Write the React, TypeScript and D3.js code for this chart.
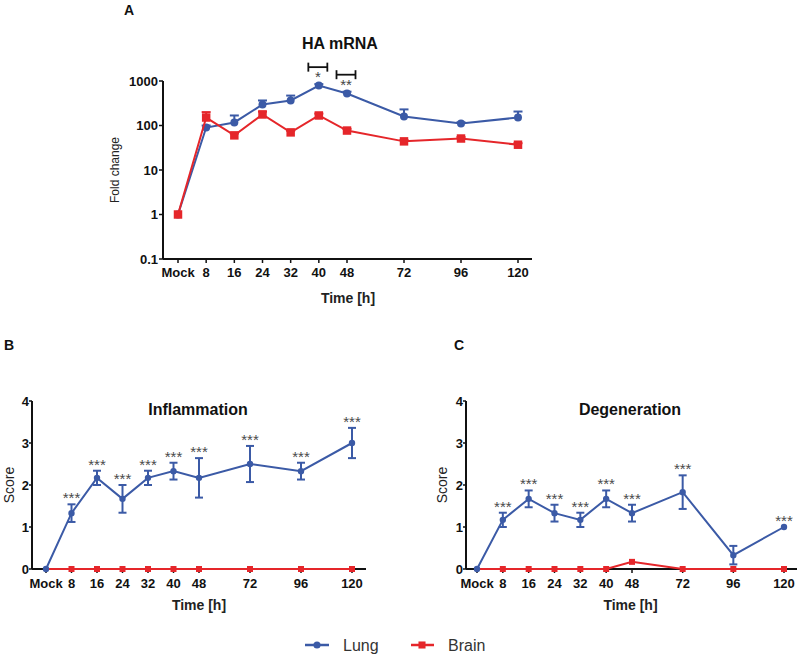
import React from "react";
import * as d3 from "d3";

const hours = [0, 8, 16, 24, 32, 40, 48, 72, 96, 120];
const hourLabels = ["Mock", "8", "16", "24", "32", "40", "48", "72", "96", "120"];

// Panel A: HA mRNA fold change (log scale)
const haLung = [1, 90, 117, 296, 365, 790, 525, 160, 111, 151];
const haLungUpper = [1, 100, 168, 365, 470, 850, 575, 230, 118, 206];
const haBrain = [1, 151, 60, 177, 70, 168, 77, 44, 51, 37];
const haBrainUpper = [1, 200, 66, 205, 76, 185, 84, 47, 55, 40];
const haYTicks = [0.1, 1, 10, 100, 1000];
const haYTickLabels = ["0.1", "1", "10", "100", "1000"];
const haSigHours = [40, 48];
const haSigLabels = ["*", "**"];

// Panel B: Inflammation score
const inflLung = [0, 1.33, 2.17, 1.67, 2.17, 2.33, 2.17, 2.5, 2.33, 3.0];
const inflLungErr = [0, 0.21, 0.17, 0.33, 0.17, 0.2, 0.47, 0.43, 0.2, 0.36];
const inflBrain = [0, 0, 0, 0, 0, 0, 0, 0, 0, 0];
const inflStars = ["", "***", "***", "***", "***", "***", "***", "***", "***", "***"];

// Panel C: Degeneration score
const degLung = [0, 1.17, 1.67, 1.33, 1.17, 1.67, 1.33, 1.83, 0.33, 1.0];
const degLungErr = [0, 0.17, 0.2, 0.2, 0.17, 0.2, 0.2, 0.4, 0.22, 0];
const degBrain = [0, 0, 0, 0, 0, 0, 0.17, 0, 0, 0];
const degStars = ["", "***", "***", "***", "***", "***", "***", "***", "", "***"];

const scoreTicks = [0, 1, 2, 3, 4];

const BLUE = "#3b5aa6";
const RED = "#e5262a";
const FONT = "'Liberation Sans', Arial, sans-serif";

const circle = d3.symbol().type(d3.symbolCircle);
const square = d3.symbol().type(d3.symbolSquare);

function XAxis({ x, y0, x0, x1, tickY }: any) {
  return (
    <g>
      <line x1={x0} x2={x1} y1={y0} y2={y0} stroke="#111" strokeWidth={2} />
      {hours.map((h, i) => (
        <g key={i}>
          <line x1={x(h)} x2={x(h)} y1={y0} y2={y0 + 4} stroke="#111" strokeWidth={1.5} />
          <text x={x(h)} y={tickY} textAnchor="middle" fontSize={13} fontWeight="bold" fill="#111" fontFamily={FONT}>
            {hourLabels[i]}
          </text>
        </g>
      ))}
    </g>
  );
}

function ScorePanel({ x, y, axX, axX1, lung, lungErr, brain, stars, title, titleX, letter, letterX, scoreX }: any) {
  const y0 = y(0);
  const lineGen = d3.line<number>().x((_, i) => x(hours[i])).y((d) => y(d));
  return (
    <g fontFamily={FONT}>
      <text x={letterX} y={350} textAnchor="middle" fontSize={14} fontWeight="bold" fill="#111">{letter}</text>
      <text x={titleX} y={415} textAnchor="middle" fontSize={16} fontWeight="bold" fill="#111">{title}</text>
      {/* y axis */}
      <line x1={axX} x2={axX} y1={y(4)} y2={y0} stroke="#111" strokeWidth={2} />
      {scoreTicks.map((t) => (
        <g key={t}>
          <line x1={axX - 3} x2={axX} y1={y(t)} y2={y(t)} stroke="#111" strokeWidth={1.5} />
          <text x={axX - 3} y={y(t) + 4.5} textAnchor="end" fontSize={13} fontWeight="bold" fill="#111">{t}</text>
        </g>
      ))}
      <text transform={`translate(${scoreX},485) rotate(-90)`} textAnchor="middle" fontSize={14} fill="#222">Score</text>
      <XAxis x={x} y0={y0} x0={axX} x1={axX1} tickY={588} />
      <text x={(x(0) + x(120)) / 2} y={610} textAnchor="middle" fontSize={14} fontWeight="bold" fill="#222">Time [h]</text>
      {/* brain */}
      <path d={lineGen(brain) || ""} fill="none" stroke={RED} strokeWidth={2} />
      {brain.map((v: number, i: number) =>
        i === 0 ? null : (
          <path key={i} d={square.size(36)() || ""} transform={`translate(${x(hours[i])},${y(v)})`} fill={RED} />
        )
      )}
      {/* lung */}
      <path d={lineGen(lung) || ""} fill="none" stroke={BLUE} strokeWidth={2} />
      {lung.map((v: number, i: number) => {
        const e = lungErr[i];
        const cx = x(hours[i]);
        return (
          <g key={i}>
            {e > 0 && (
              <g stroke={BLUE} strokeWidth={2}>
                <line x1={cx} x2={cx} y1={y(v - e)} y2={y(v + e)} />
                <line x1={cx - 4} x2={cx + 4} y1={y(v + e)} y2={y(v + e)} />
                <line x1={cx - 4} x2={cx + 4} y1={y(v - e)} y2={y(v - e)} />
              </g>
            )}
            <path d={circle.size(32)() || ""} transform={`translate(${cx},${y(v)})`} fill={BLUE} />
            {stars[i] && (
              <text x={cx} y={y(v + e) - 1} textAnchor="middle" fontSize={15} fill="#4a4a4a">{stars[i]}</text>
            )}
          </g>
        );
      })}
    </g>
  );
}

export default function App() {
  // Panel A scales
  const xA = d3.scaleLinear().domain([0, 48, 120]).range([178, 347, 518]);
  const yA = d3.scaleLog().domain([0.1, 1000]).range([259, 81]);
  const axA = 163;
  const lineA = d3.line<number>().x((_, i) => xA(hours[i])).y((d) => yA(d));

  const xB = d3.scaleLinear().domain([0, 48, 120]).range([46, 199, 352]);
  const xC = d3.scaleLinear().domain([0, 48, 120]).range([477, 632, 784]);
  const yS = d3.scaleLinear().domain([0, 4]).range([569, 401]);

  return (
    <svg width={800} height={657} style={{ position: "absolute", left: 0, top: 0, background: "#fff" }}>
      <rect width={800} height={657} fill="#fff" />
      <g fontFamily={FONT}>
        <text x={129} y={15} textAnchor="middle" fontSize={14} fontWeight="bold" fill="#111">A</text>
        <text x={340} y={49} textAnchor="middle" fontSize={16} fontWeight="bold" fill="#111">HA mRNA</text>
        <line x1={axA} x2={axA} y1={yA(1000)} y2={yA(0.1)} stroke="#111" strokeWidth={2} />
        {haYTicks.map((t, i) => (
          <g key={t}>
            <line x1={axA - 4} x2={axA} y1={yA(t)} y2={yA(t)} stroke="#111" strokeWidth={1.5} />
            <text x={axA - 5} y={yA(t) + 4.5} textAnchor="end" fontSize={13} fontWeight="bold" fill="#111">{haYTickLabels[i]}</text>
          </g>
        ))}
        <text transform="translate(119,170) rotate(-90)" textAnchor="middle" fontSize={12} fill="#222">Fold change</text>
        <XAxis x={xA} y0={yA(0.1)} x0={axA} x1={532} tickY={277} />
        <text x={348} y={303} textAnchor="middle" fontSize={14} fontWeight="bold" fill="#222">Time [h]</text>

        {/* Lung */}
        <path d={lineA(haLung) || ""} fill="none" stroke={BLUE} strokeWidth={2} />
        {haLung.map((v, i) => {
          const cx = xA(hours[i]);
          const up = haLungUpper[i];
          return (
            <g key={i}>
              {up > v && (
                <g stroke={BLUE} strokeWidth={2}>
                  <line x1={cx} x2={cx} y1={yA(v)} y2={yA(up)} />
                  <line x1={cx - 4.5} x2={cx + 4.5} y1={yA(up)} y2={yA(up)} />
                </g>
              )}
              <path d={circle.size(50)() || ""} transform={`translate(${cx},${yA(v)})`} fill={BLUE} />
            </g>
          );
        })}
        {/* Brain */}
        <path d={lineA(haBrain) || ""} fill="none" stroke={RED} strokeWidth={2} />
        {haBrain.map((v, i) => {
          const cx = xA(hours[i]);
          const up = haBrainUpper[i];
          return (
            <g key={i}>
              {up > v && (
                <g stroke={RED} strokeWidth={2}>
                  <line x1={cx} x2={cx} y1={yA(v)} y2={yA(up)} />
                  <line x1={cx - 4.5} x2={cx + 4.5} y1={yA(up)} y2={yA(up)} />
                </g>
              )}
              <path d={square.size(72)() || ""} transform={`translate(${cx},${yA(v)})`} fill={RED} />
            </g>
          );
        })}
        {/* significance brackets */}
        {haSigHours.map((h, k) => {
          const i = hours.indexOf(h);
          const cx = xA(h) - 1;
          const by = yA(haLungUpper[i]) - 17;
          return (
            <g key={h}>
              <g stroke="#111" strokeWidth={1.8}>
                <line x1={cx - 9.5} x2={cx + 9.5} y1={by} y2={by} />
                <line x1={cx - 9.5} x2={cx - 9.5} y1={by - 4.5} y2={by + 4.5} />
                <line x1={cx + 9.5} x2={cx + 9.5} y1={by - 4.5} y2={by + 4.5} />
              </g>
              <text x={cx} y={by + 15} textAnchor="middle" fontSize={15} fill="#444">{haSigLabels[k]}</text>
            </g>
          );
        })}
      </g>

      <ScorePanel x={xB} y={yS} axX={32} axX1={366} lung={inflLung} lungErr={inflLungErr} brain={inflBrain}
        stars={inflStars} title="Inflammation" titleX={198} letter="B" letterX={9} scoreX={14} />
      <ScorePanel x={xC} y={yS} axX={466} axX1={797} lung={degLung} lungErr={degLungErr} brain={degBrain}
        stars={degStars} title="Degeneration" titleX={630} letter="C" letterX={459} scoreX={447} />

      {/* Legend */}
      <g fontFamily={FONT}>
        <line x1={305} x2={329} y1={645} y2={645} stroke={BLUE} strokeWidth={2.5} />
        <path d={circle.size(40)() || ""} transform="translate(317,645)" fill={BLUE} />
        <text x={343} y={651} fontSize={16} fill="#333">Lung</text>
        <line x1={411} x2={434} y1={645} y2={645} stroke={RED} strokeWidth={2.5} />
        <path d={square.size(50)() || ""} transform="translate(422,645)" fill={RED} />
        <text x={448} y={651} fontSize={16} fill="#333">Brain</text>
      </g>
    </svg>
  );
}
